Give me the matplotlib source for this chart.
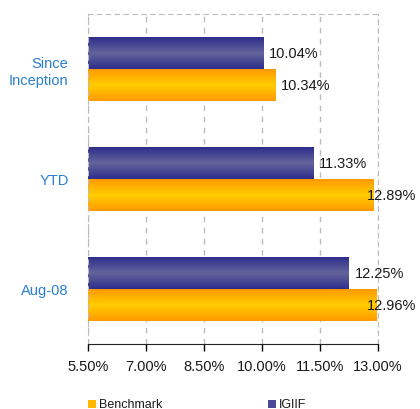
import numpy as np
import matplotlib.pyplot as plt
from matplotlib.colors import LinearSegmentedColormap
from matplotlib.patches import Rectangle

plt.rcParams['font.family'] = ['Liberation Sans', 'DejaVu Sans']

categories = ["Since\nInception", "YTD", "Aug-08"]
igiif = [10.04, 11.33, 12.25]
benchmark = [10.34, 12.89, 12.96]
xticks = [5.5, 7.0, 8.5, 10.0, 11.5, 13.0]
xlabels = ["5.50%", "7.00%", "8.50%", "10.00%", "11.50%", "13.00%"]

fig = plt.figure(figsize=(4.2, 4.1), dpi=100)
ax = fig.add_axes([88 / 420, 65 / 410, 290 / 420, 330 / 410])

y = np.arange(len(categories))
h = 0.29
base = xticks[0]

cm_blue = LinearSegmentedColormap.from_list("b", ["#2E2E8E", "#64649A", "#2E2E8E"])
cm_gold = LinearSegmentedColormap.from_list("g", ["#FF9A00", "#FFCC00", "#FF9A00"])
grad = np.linspace(0, 1, 64).reshape(-1, 1)


def shade(bars, cmap):
    for b in bars:
        b.set_facecolor('none')
        x0, y0 = b.get_x(), b.get_y()
        im = ax.imshow(grad, cmap=cmap, aspect='auto', zorder=2,
                       extent=(x0, x0 + b.get_width(), y0 + b.get_height(), y0))
        im.set_clip_path(b)


b1 = ax.barh(y - h / 2, [v - base for v in igiif], height=h, left=base, linewidth=0, zorder=2)
b2 = ax.barh(y + h / 2, [v - base for v in benchmark], height=h, left=base, linewidth=0, zorder=2)
shade(b1, cm_blue)
shade(b2, cm_gold)


def label(yy, v):
    # labels that would run off the right edge get pushed back inside
    if v + 0.15 > 12.7:
        ax.text(14.0, yy, f"{v:.2f}%", va='center', ha='right', fontsize=10.5,
                color='#1a1a1a', zorder=4, clip_on=False)
    else:
        ax.text(v + 0.15, yy, f"{v:.2f}%", va='center', ha='left', fontsize=10.5,
                color='#1a1a1a', zorder=4)


for yy, v in zip(y - h / 2, igiif):
    label(yy, v)
for yy, v in zip(y + h / 2, benchmark):
    label(yy, v)

ax.set_xlim(5.5, 13.0)
ax.set_ylim(2.5, -0.5)
ax.set_xticks(xticks)
ax.set_xticklabels(xlabels, fontsize=10.5, color='#1a1a1a')
ax.set_yticks(y)
ax.set_yticklabels(categories, fontsize=10.5, color='#2A7FD4', ha='right')
ax.tick_params(axis='y', length=0, pad=14)
ax.tick_params(axis='x', length=5, width=1, direction='out', pad=6)

ax.grid(axis='x', color='#BBBBBB', linestyle=(0, (4, 4)), linewidth=1, zorder=0)
for s in ['top', 'right', 'left']:
    ax.spines[s].set_color('#BBBBBB')
    ax.spines[s].set_linestyle((0, (4, 4)))
ax.spines['bottom'].set_color('#222222')
ax.set_axisbelow(True)

# legend
fig.patches.append(Rectangle((88 / 420, 1 / 410), 8 / 420, 8 / 410, transform=fig.transFigure,
                             facecolor='#FFB800', edgecolor='none'))
fig.text(99 / 420, 5 / 410, "Benchmark", fontsize=9, va='center', color='#1a1a1a')
fig.patches.append(Rectangle((268 / 420, 1 / 410), 8 / 420, 8 / 410, transform=fig.transFigure,
                             facecolor='#4A4A96', edgecolor='none'))
fig.text(279 / 420, 5 / 410, "IGIIF", fontsize=9, va='center', color='#1a1a1a')

fig.savefig("out.png", dpi=100)
